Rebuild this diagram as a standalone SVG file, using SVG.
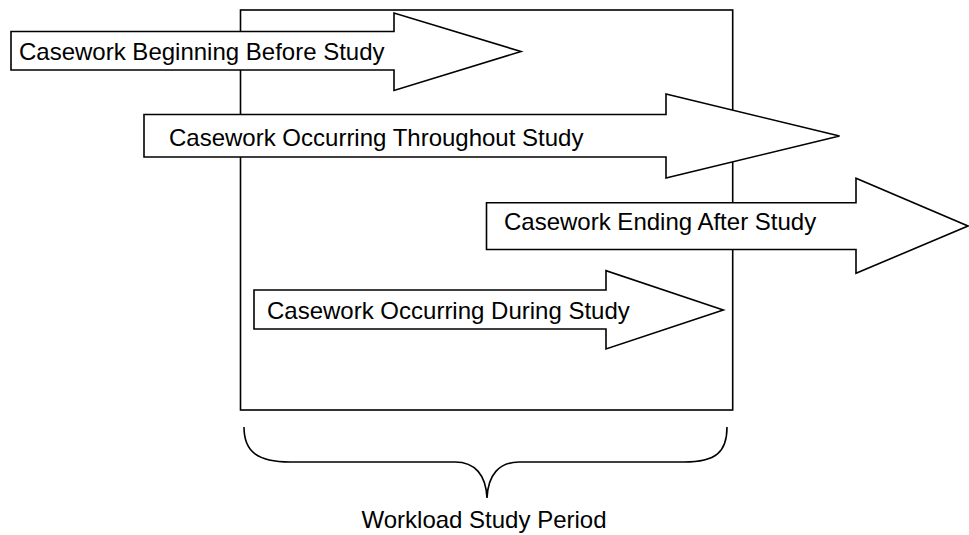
<svg xmlns="http://www.w3.org/2000/svg" width="969" height="535" viewBox="0 0 969 535">
<style>
.ln{fill:none;stroke:#000;stroke-width:1.6}
.ar{fill:#fff;stroke:#000;stroke-width:1.6;stroke-linejoin:miter}
.t{font-family:"Liberation Sans",Arial,sans-serif;font-size:24px;fill:#000}
</style>
<rect width="969" height="535" fill="#fff"/>
<g id="study-period-box">
<rect class="ln" x="240.5" y="10" width="492.2" height="400"/>
</g>
<g id="arrow-beginning-before">
<polygon class="ar" points="11,31.5 394,31.5 394,13 521,51.5 394,90.5 394,70 11,70"/>
<text class="t" x="19" y="60">Casework Beginning Before Study</text>
</g>
<g id="arrow-throughout">
<polygon class="ar" points="144,114.5 666,114.5 666,94 839.5,136 666,178 666,157 144,157"/>
<text class="t" x="169" y="146">Casework Occurring Throughout Study</text>
</g>
<g id="arrow-ending-after">
<polygon class="ar" points="486.5,202.7 856,202.7 856,178.3 968,226 856,273.3 856,249.5 486.5,249.5"/>
<text class="t" x="504" y="230">Casework Ending After Study</text>
</g>
<g id="arrow-during">
<polygon class="ar" points="254,290 606,290 606,270.7 723.3,310 606,349 606,329 254,329"/>
<text class="t" x="267" y="319">Casework Occurring During Study</text>
</g>
<g id="brace">
<path class="ln" d="M244,427 C244,452 258,462 290,462 L455,462 C475,462 486,475 487,498 C488,475 499,462 519,462 L684,462 C716,462 727,452 727,427"/>
<text class="t" x="484" y="528" text-anchor="middle">Workload Study Period</text>
</g>
</svg>
